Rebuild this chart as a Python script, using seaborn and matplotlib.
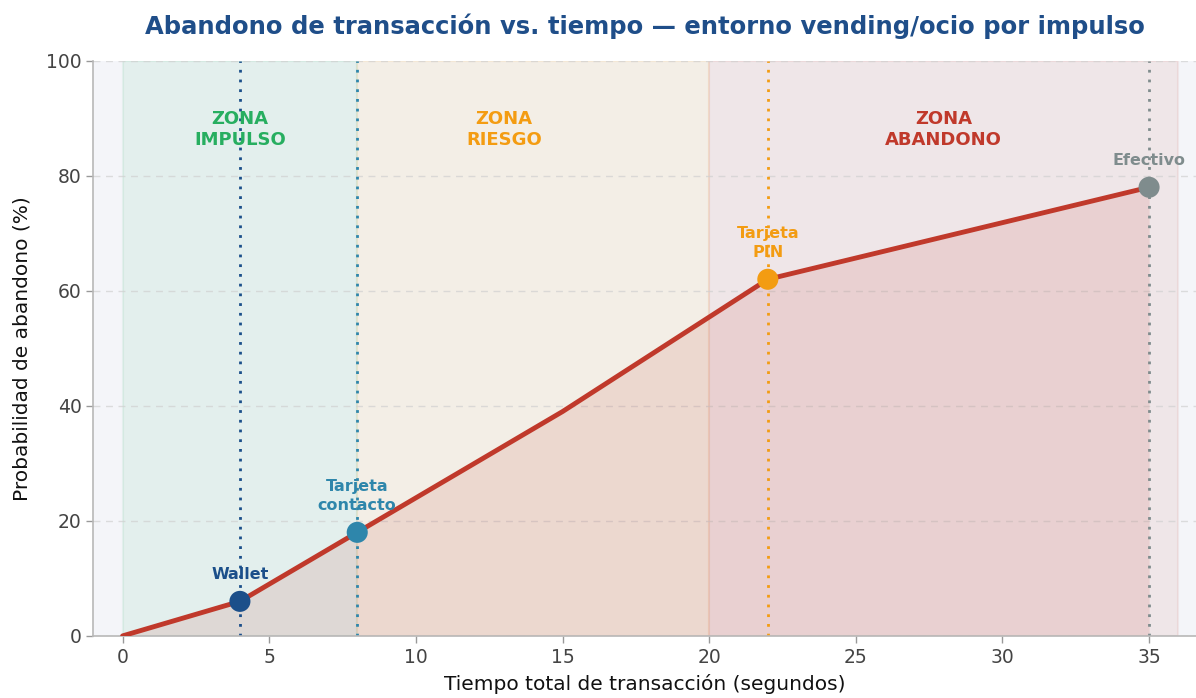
import matplotlib
matplotlib.use("Agg")
import matplotlib.pyplot as plt
import seaborn as sns
import pandas as pd

# Curve data
tiempo = [0, 4, 8, 15, 22, 35]
abandono = [0, 6, 18, 39, 62, 78]

# Payment methods
metodos = ["Wallet", "Tarjeta\ncontacto", "Tarjeta\nPIN", "Efectivo"]
metodo_t = [4, 8, 22, 35]
metodo_p = [6, 18, 62, 78]
metodo_col = ["#1b4f8a", "#2e86ab", "#f39c12", "#7f8c8d"]

# Zones
zonas = ["ZONA\nIMPULSO", "ZONA\nRIESGO", "ZONA\nABANDONO"]
zona_ini = [0, 8, 20]
zona_fin = [8, 20, 36]
zona_txt_x = [4, 13, 28]
zona_col = ["#27ae60", "#f39c12", "#c0392b"]

sns.set_theme(style="whitegrid")
plt.rcParams['font.family'] = ['DejaVu Sans']

fig = plt.figure(figsize=(11.96, 6.98), dpi=100)
ax = fig.add_axes([0.078, 0.089, 0.922, 0.824])
ax.set_facecolor("#f4f5f9")

for a, b, c in zip(zona_ini, zona_fin, zona_col):
    ax.axvspan(a, b, facecolor=c, edgecolor=c, alpha=0.08, lw=1.5, zorder=0)

df = pd.DataFrame({"t": tiempo, "p": abandono})
ax.fill_between(df["t"], df["p"], color="#c0392b", alpha=0.12, lw=0, zorder=1)
sns.lineplot(data=df, x="t", y="p", ax=ax, color="#c0392b", lw=3.5, zorder=3)

for t, c in zip(metodo_t, metodo_col):
    ax.axvline(t, color=c, ls=(0, (1, 2.5)), lw=2, zorder=2)

dm = pd.DataFrame({"t": metodo_t, "p": metodo_p, "m": metodos})
sns.scatterplot(data=dm, x="t", y="p", hue="m", palette=metodo_col, s=230,
                edgecolor="none", ax=ax, legend=False, zorder=4)

for m, t, p, c in zip(metodos, metodo_t, metodo_p, metodo_col):
    ax.annotate(m, (t, p), xytext=(0, 14), textcoords="offset points",
                ha="center", va="bottom", color=c, fontsize=11.5,
                fontweight="bold", linespacing=1.3, zorder=5)

for z, cx, c in zip(zonas, zona_txt_x, zona_col):
    ax.text(cx, 88, z, ha="center", va="center", color=c, fontsize=13,
            fontweight="bold", linespacing=1.2, zorder=5)

ax.set_xlim(-1, 36.6)
ax.set_ylim(0, 100)
ax.set_xticks([0, 5, 10, 15, 20, 25, 30, 35])
ax.set_yticks([0, 20, 40, 60, 80, 100])
ax.grid(axis="x", visible=False)
ax.grid(axis="y", color="#d0d0d0", ls=(0, (5, 4)), lw=1, alpha=0.7)
for s in ["top", "right"]:
    ax.spines[s].set_visible(False)
for s in ["left", "bottom"]:
    ax.spines[s].set_color("#b8b8b8")
    ax.spines[s].set_linewidth(1.2)
ax.tick_params(axis="both", labelsize=13.5, colors="#444444", length=5, width=1,
               color="#999999", bottom=True, left=True)
ax.set_xlabel("Tiempo total de transacción (segundos)", fontsize=14.5, color="#111111", labelpad=5)
ax.set_ylabel("Probabilidad de abandono (%)", fontsize=14.5, color="#111111", labelpad=10)
ax.set_title("Abandono de transacción vs. tiempo — entorno vending/ocio por impulso",
             fontsize=17.5, fontweight="bold", color="#1f4e89", pad=19)

fig.savefig("out.png", dpi=100)
